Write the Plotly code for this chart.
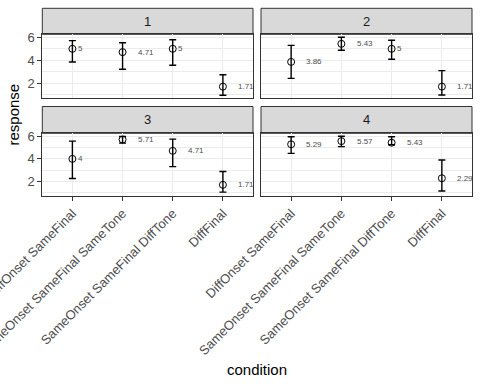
import plotly.graph_objects as go

# ---------------- data ----------------
conditions = ["DiffOnset SameFinal", "SameOnset SameFinal SameTone",
              "SameOnset SameFinal DiffTone", "DiffFinal"]
panels = ["1", "2", "3", "4"]

mean_1 = [5.00, 4.71, 5.00, 1.71]
mean_2 = [3.86, 5.43, 5.00, 1.71]
mean_3 = [4.00, 5.71, 4.71, 1.71]
mean_4 = [5.29, 5.57, 5.43, 2.29]

upper_1 = [5.71, 5.53, 5.79, 2.75]
upper_2 = [5.30, 6.00, 5.74, 3.10]
upper_3 = [5.57, 5.98, 5.75, 2.89]
upper_4 = [5.96, 6.00, 5.96, 3.90]

lower_1 = [3.85, 3.22, 3.57, 0.96]
lower_2 = [2.43, 4.87, 4.09, 0.98]
lower_3 = [2.27, 5.39, 3.32, 1.07]
lower_4 = [4.49, 5.08, 5.25, 1.16]

y_ticks = [2, 4, 6]
y_minor = [1, 3, 5]

means = [mean_1, mean_2, mean_3, mean_4]
uppers = [upper_1, upper_2, upper_3, upper_4]
lowers = [lower_1, lower_2, lower_3, lower_4]

# ---------------- layout geometry (pixels) ----------------
W, H = 480, 384
FONT = "Liberation Sans, Arial, sans-serif"
col_x = [(42.3, 253.0), (261.0, 472.0)]
row_y = [(34.3, 97.7), (133.3, 195.7)]      # plot areas (top, bottom) in px
strip_y = [(8.3, 34.3), (106.5, 133.3)]

def px_x(v):
    return v / W

def px_y(v):
    return 1 - v / H

fig = go.Figure()
xcat = [1, 2, 3, 4]

for i in range(4):
    r, c = divmod(i, 2)
    suffix = "" if i == 0 else str(i + 1)
    m, u, l = means[i], uppers[i], lowers[i]
    fig.add_trace(go.Scatter(
        x=xcat, y=m, mode="markers",
        xaxis="x" + suffix, yaxis="y" + suffix,
        marker=dict(symbol="circle-open", size=7, color="black",
                    line=dict(width=1, color="black")),
        error_y=dict(type="data", symmetric=False,
                     array=[uu - mm for uu, mm in zip(u, m)],
                     arrayminus=[mm - ll for mm, ll in zip(m, l)],
                     color="black", thickness=1.4, width=3.5),
        showlegend=False, hoverinfo="skip",
    ))
    # value labels
    for xv, mv in zip(xcat, m):
        txt = f"{mv:g}"
        w = 8 * sum(0.278 if ch == "." else 0.556 for ch in txt)
        fig.add_annotation(x=xv, y=mv, xref="x" + suffix, yref="y" + suffix,
                           text=txt, showarrow=False, xanchor="left",
                           yanchor="middle", xshift=0.9 * w - 0.7,
                           font=dict(family=FONT, size=8, color="#4D4D4D"))

    x0, x1 = col_x[c]
    yt, yb = row_y[r]
    xa = dict(domain=[px_x(x0), px_x(x1)], range=[0.4, 4.6],
              anchor="y" + suffix, showline=True, mirror=True,
              linecolor="#333333", linewidth=1, zeroline=False,
              showgrid=True, gridcolor="#EBEBEB", gridwidth=1.1,
              tickmode="array", tickvals=xcat, ticktext=conditions,
              automargin=False, fixedrange=True, ticklabeloverflow="allow")
    if r == 1:
        xa.update(ticks="outside", ticklen=4, tickcolor="#333333",
                  tickwidth=1, tickangle=-45, showticklabels=True,
                  tickfont=dict(family=FONT, size=13, color="#4D4D4D"))
    else:
        xa.update(ticks="", showticklabels=False)
    ya = dict(domain=[px_y(yb), px_y(yt)], range=[0.75, 6.26],
              anchor="x" + suffix, showline=True, mirror=True,
              linecolor="#333333", linewidth=1, zeroline=False,
              showgrid=True, gridcolor="#EBEBEB", gridwidth=1.1,
              tickmode="array", tickvals=y_ticks,
              minor=dict(tickmode="array", tickvals=y_minor, showgrid=True,
                         gridcolor="#EBEBEB", gridwidth=0.6, ticks=""),
              automargin=False, fixedrange=True, ticklabeloverflow="allow")
    if c == 0:
        ya.update(ticks="outside", ticklen=4, tickcolor="#333333",
                  tickwidth=1, showticklabels=True,
                  tickfont=dict(family=FONT, size=13, color="#4D4D4D"))
    else:
        ya.update(ticks="", showticklabels=False)
    fig.update_layout(**{"xaxis" + suffix: xa, "yaxis" + suffix: ya})

    # strip
    st, sb = strip_y[r]
    fig.add_shape(type="rect", xref="paper", yref="paper",
                  x0=px_x(x0), x1=px_x(x1), y0=px_y(sb), y1=px_y(st),
                  fillcolor="#D9D9D9", line=dict(color="#333333", width=1),
                  layer="below")
    fig.add_annotation(x=px_x((x0 + x1) / 2), y=px_y((st + sb) / 2),
                       xref="paper", yref="paper", text=panels[i],
                       showarrow=False, xanchor="center", yanchor="middle",
                       font=dict(family=FONT, size=13, color="#1A1A1A"))

# axis titles
fig.add_annotation(x=px_x(257), y=px_y(369), xref="paper", yref="paper",
                   text="condition", showarrow=False,
                   xanchor="center", yanchor="middle",
                   font=dict(family=FONT, size=15, color="black"))
fig.add_annotation(x=px_x(12.5), y=px_y(115), xref="paper", yref="paper",
                   text="response", showarrow=False, textangle=-90,
                   xanchor="center", yanchor="middle",
                   font=dict(family=FONT, size=15, color="black"))

fig.update_layout(width=W, height=H,
                  margin=dict(l=0, r=0, t=0, b=0, autoexpand=False),
                  paper_bgcolor="white", plot_bgcolor="white",
                  font=dict(family=FONT))

fig.write_html("out.html", config={"displayModeBar": False},
               post_script="document.body.style.margin='0';"
                           "document.body.style.overflow='hidden';")
